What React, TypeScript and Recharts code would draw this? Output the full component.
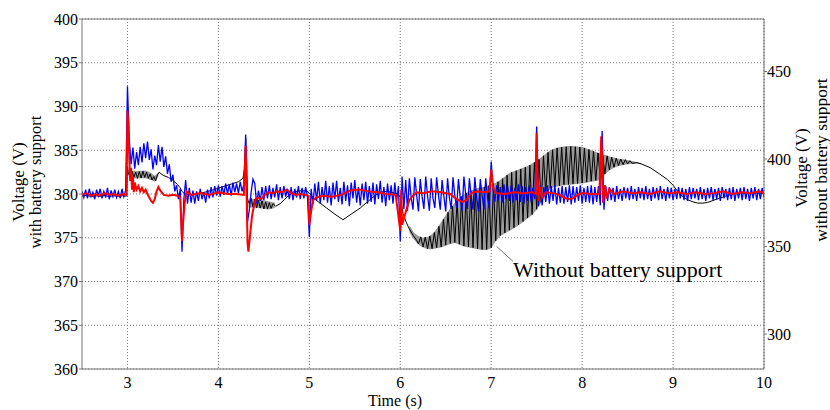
import {
  ComposedChart,
  Line,
  Area,
  XAxis,
  YAxis,
  CartesianGrid,
  ReferenceLine,
} from 'recharts';

const timeTicks = [3, 4, 5, 6, 7, 8, 9, 10];
const leftTicks = [360, 365, 370, 375, 380, 385, 390, 395, 400];
const rightTicks = [300, 350, 400, 450];

// blue trace (with battery support), sampled every 20 ms from 2.5 s
const blueStart = 2.5;
const blueStep = 0.02;
const blueValues = [
  380.3, 379.6, 380.5, 379.5, 380.6, 379.7, 380.2, 379.4, 380.5, 379.8,
  380.6, 379.5, 380.3, 379.6, 380.7, 379.4, 380.4, 379.7, 380.5, 379.6,
  380.3, 379.5, 380.6, 379.7, 380.4,
  392.3, 386.2, 383.4, 385.3, 382.9,
  384.8, 383.3, 385.4, 383.6, 385.8, 384.1, 386.0, 383.9, 385.1, 382.8,
  384.4, 383.3, 385.6, 383.7, 385.4, 383.1, 384.3, 382.3, 383.4, 381.4,
  382.2, 380.3, 381.0, 379.4, 380.6,
  373.4, 379.4, 381.6, 378.9, 380.7,
  379.0, 380.4, 378.9, 380.3, 379.2, 380.6, 379.4, 380.2, 379.0, 380.5,
  379.5, 380.8, 379.6, 380.9, 379.8, 381.0, 379.7, 380.9, 379.9, 381.2,
  380.0, 381.1, 379.8, 381.3, 380.2, 381.2, 380.1, 381.4, 380.3, 381.1,
  386.8, 376.8, 378.2, 380.2, 381.7,
  381.2, 378.9, 380.4, 379.2, 380.8, 379.3, 380.9, 379.5, 381.0, 379.4,
  380.7, 379.6, 381.1, 379.3, 380.8, 379.5, 380.9, 379.7, 380.6, 379.4,
  380.8, 379.3, 380.6, 379.6, 380.9, 379.4, 380.7, 379.5, 380.8, 379.6,
  375.1, 380.6, 378.8, 381.2, 379.2,
  381.4, 378.9, 380.8, 379.3, 381.5, 379.0, 380.9, 378.7, 381.3, 379.4,
  381.5, 379.1, 380.7, 378.8, 381.4, 379.2, 381.0, 378.6, 381.3, 379.5,
  381.6, 379.0, 380.8, 378.7, 381.2, 379.3, 381.4, 378.9, 380.9, 379.1,
  381.3, 378.8, 381.1, 379.4, 381.5, 379.0, 380.8, 378.6, 381.2, 379.3,
  381.0, 378.9, 381.3, 379.2, 380.9,
  374.6, 382.0, 378.3, 381.6, 378.1,
  381.8, 379.6, 378.2, 381.9, 379.9, 378.0, 381.7, 379.7, 378.3, 382.0,
  379.8, 378.1, 381.8, 379.5, 378.4, 381.9, 379.9, 378.2, 381.6, 379.7,
  378.0, 381.8, 379.6, 378.3, 381.9, 379.8, 378.4, 381.7, 379.5, 378.1,
  382.0, 379.9, 378.3, 381.8, 379.7, 378.2, 381.9, 379.6, 378.0, 381.7,
  379.8, 378.3, 381.8, 379.5, 378.4,
  383.7, 380.6, 379.1, 381.0, 379.3,
  380.8, 379.0, 381.1, 379.4, 380.9, 379.2, 381.0, 379.0, 380.7, 379.3,
  381.1, 379.1, 380.9, 378.9, 380.8, 379.2, 381.0, 379.0, 380.7, 379.4,
  387.7, 378.6, 381.0, 378.7, 380.8,
  379.1, 381.0, 378.9, 380.9, 379.2, 381.0, 378.8, 380.7, 379.0, 380.9,
  378.9, 380.8, 379.1, 381.0, 378.8, 380.9, 379.0, 380.8, 379.2, 381.0,
  378.9, 380.7, 379.1, 380.9, 379.0, 381.0, 378.8, 380.8, 379.1, 380.9,
  378.7, 387.2, 378.2, 380.9, 379.2,
  380.8, 379.3, 380.7, 379.1, 380.9, 379.4, 380.6, 379.2, 380.8, 379.5,
  380.7, 379.3, 380.9, 379.4, 380.6, 379.2, 380.8, 379.5, 380.7, 379.3,
  380.9, 379.4, 380.6, 379.2, 380.8, 379.5, 380.7, 379.3, 380.9, 379.4,
  380.6, 379.2, 380.8, 379.5, 380.7, 379.3, 380.6, 379.4, 380.8, 379.5,
  380.7, 379.3, 380.6, 379.2, 380.8, 379.4, 380.7, 379.5, 380.6, 379.3,
  380.8, 379.4, 380.6, 379.2, 380.7, 379.5, 380.8, 379.3, 380.6, 379.4,
  380.7, 379.2, 380.8, 379.5, 380.6, 379.3, 380.7, 379.4, 380.8, 379.2,
  380.6, 379.5, 380.7, 379.3, 380.8, 379.4, 380.6, 379.2, 380.7, 379.5,
  380.8, 379.3, 380.6, 379.4, 380.7, 379.6,
];

// red trace (with battery support), [time, voltage]
const redPoints: [number, number][] = [
  [2.5, 379.9], [2.55, 380.1], [2.6, 379.8], [2.65, 380.0], [2.7, 379.8],
  [2.75, 380.1], [2.8, 379.9], [2.85, 380.0], [2.9, 379.8], [2.95, 380.0],
  [2.99, 379.9], [3.0, 389.5], [3.01, 388.0], [3.02, 384.0], [3.03, 381.5],
  [3.04, 383.0], [3.05, 380.5], [3.06, 382.0], [3.07, 380.2], [3.08, 381.3],
  [3.1, 380.5], [3.12, 380.9], [3.14, 380.3], [3.16, 380.7], [3.18, 380.2],
  [3.2, 380.5], [3.22, 380.0], [3.24, 379.6], [3.26, 379.2], [3.28, 379.0],
  [3.3, 379.4], [3.32, 380.3], [3.34, 380.8], [3.36, 380.4], [3.4, 379.9],
  [3.45, 379.8], [3.5, 379.9], [3.55, 379.8], [3.58, 379.6], [3.6, 374.6],
  [3.61, 376.5], [3.63, 379.0], [3.65, 380.3], [3.7, 379.9], [3.8, 380.1],
  [3.9, 379.9], [4.0, 380.2], [4.1, 380.0], [4.2, 380.0], [4.28, 379.9],
  [4.3, 385.5], [4.31, 380.0], [4.32, 374.5], [4.33, 373.4], [4.35, 375.5],
  [4.37, 377.5], [4.39, 378.6], [4.41, 379.4], [4.44, 379.6], [4.47, 379.4],
  [4.5, 379.8], [4.55, 380.2], [4.6, 380.1], [4.65, 380.3], [4.7, 380.2],
  [4.75, 380.5], [4.8, 380.1], [4.85, 379.9], [4.9, 380.0], [4.95, 379.9],
  [4.99, 379.8], [5.0, 376.5], [5.02, 378.0], [5.04, 379.3], [5.08, 379.6],
  [5.15, 379.8], [5.25, 379.7], [5.35, 379.9], [5.45, 380.4], [5.55, 380.5],
  [5.65, 380.3], [5.75, 380.2], [5.85, 380.0], [5.95, 379.9], [6.0, 375.8],
  [6.01, 380.5], [6.02, 376.5], [6.04, 377.2], [6.07, 378.3], [6.1, 379.3],
  [6.13, 379.7], [6.18, 380.2], [6.25, 380.1], [6.35, 380.3], [6.45, 380.2],
  [6.55, 380.0], [6.62, 379.4], [6.68, 379.1], [6.73, 379.3], [6.78, 380.1],
  [6.85, 380.3], [6.92, 380.2], [6.98, 380.3], [7.0, 382.8], [7.02, 380.8],
  [7.05, 380.1], [7.15, 380.0], [7.25, 380.2], [7.35, 380.1], [7.45, 380.2],
  [7.49, 380.0], [7.5, 387.0], [7.51, 382.0], [7.52, 379.2], [7.54, 380.8],
  [7.56, 379.6], [7.6, 380.2], [7.68, 380.1], [7.75, 379.9], [7.8, 379.6],
  [7.85, 379.4], [7.9, 379.5], [7.95, 379.9], [8.0, 380.1], [8.1, 380.0],
  [8.19, 380.0], [8.21, 386.6], [8.22, 384.0], [8.23, 379.0], [8.25, 381.0],
  [8.27, 379.5], [8.3, 380.6], [8.35, 380.0], [8.45, 380.3], [8.55, 380.1],
  [8.65, 380.2], [8.75, 380.0], [8.85, 380.3], [8.95, 380.1], [9.05, 380.2],
  [9.15, 380.0], [9.25, 380.2], [9.35, 380.0], [9.45, 380.1], [9.55, 380.3],
  [9.65, 380.0], [9.75, 380.2], [9.85, 380.1], [9.95, 380.3], [10.0, 380.1],
];

// black trace (without battery support, right axis), [time, voltage]
const blackPoints: [number, number][] = [
  [2.5, 378.8], [2.55, 379.2], [2.6, 378.6], [2.65, 379.0], [2.7, 378.7],
  [2.75, 379.1], [2.8, 378.6], [2.85, 379.0], [2.9, 378.7], [2.95, 379.0],
  [2.99, 378.8], [3.0, 396.0], [3.01, 392.0], [3.03, 389.0], [3.05, 393.0],
  [3.07, 389.5], [3.09, 392.5], [3.11, 389.0], [3.13, 392.8], [3.15, 389.2],
  [3.17, 393.0], [3.19, 389.5], [3.21, 392.5], [3.23, 389.0], [3.25, 391.5],
  [3.27, 388.0], [3.29, 390.0], [3.31, 387.5], [3.33, 391.0], [3.35, 392.5],
  [3.37, 391.5], [3.4, 390.5], [3.45, 389.5], [3.5, 387.8], [3.55, 385.5],
  [3.58, 383.5], [3.6, 381.5], [3.63, 380.0], [3.68, 379.6], [3.75, 379.8],
  [3.85, 381.0], [3.95, 382.5], [4.05, 384.2], [4.15, 385.8], [4.22, 387.0],
  [4.27, 389.0], [4.29, 395.0], [4.3, 412.0], [4.31, 400.0], [4.32, 377.0],
  [4.34, 374.5], [4.36, 377.5], [4.38, 372.5], [4.4, 377.0], [4.42, 372.0],
  [4.44, 376.5], [4.46, 372.0], [4.48, 376.0], [4.5, 371.5], [4.52, 375.5],
  [4.54, 371.5], [4.56, 375.0], [4.58, 371.8], [4.6, 374.5], [4.63, 373.0],
  [4.68, 374.5], [4.73, 377.0], [4.78, 379.5], [4.83, 381.3], [4.9, 381.8],
  [4.97, 381.8], [5.0, 380.5], [5.05, 377.5], [5.1, 375.5], [5.19, 372.0],
  [5.28, 368.5], [5.37, 365.3], [5.46, 368.5], [5.56, 372.0], [5.65, 376.0],
  [5.72, 379.0], [5.78, 381.0], [5.85, 381.5], [5.92, 380.8], [5.98, 379.8],
  [6.0, 378.0], [6.03, 369.0], [6.06, 364.5], [6.1, 360.0], [6.14, 356.5],
  [6.18, 353.5], [6.2, 351.5], [6.225, 355.5], [6.25, 349.8], [6.275, 355.3],
  [6.3, 348.8], [6.325, 356.0], [6.35, 348.8], [6.375, 358.0], [6.4, 349.3],
  [6.425, 361.5], [6.45, 349.8], [6.475, 365.5], [6.5, 350.8], [6.525, 369.5],
  [6.55, 351.8], [6.575, 373.0], [6.6, 352.3], [6.625, 376.0], [6.65, 351.3],
  [6.675, 378.5], [6.7, 350.3], [6.725, 380.5], [6.75, 349.8], [6.775, 381.8],
  [6.8, 349.3], [6.825, 382.8], [6.85, 348.8], [6.875, 383.5], [6.9, 348.3],
  [6.925, 384.0], [6.95, 348.3], [6.975, 384.8], [7.0, 349.3], [7.025, 385.8],
  [7.05, 353.3], [7.075, 387.0], [7.1, 356.3], [7.125, 388.8], [7.15, 357.8],
  [7.175, 390.8], [7.2, 359.3], [7.225, 392.3], [7.25, 360.8], [7.275, 393.3],
  [7.3, 362.3], [7.325, 394.3], [7.35, 364.3], [7.375, 395.3], [7.4, 366.3],
  [7.425, 396.5], [7.45, 368.3], [7.475, 398.0], [7.5, 371.3], [7.525, 399.8],
  [7.55, 375.3], [7.575, 401.8], [7.6, 380.3], [7.625, 403.8], [7.65, 383.3],
  [7.675, 405.3], [7.7, 384.3], [7.725, 406.3], [7.75, 384.8], [7.775, 406.8],
  [7.8, 385.3], [7.825, 407.0], [7.85, 385.5], [7.875, 407.2], [7.9, 385.8],
  [7.925, 407.0], [7.95, 386.0], [7.975, 406.8], [8.0, 386.3], [8.025, 406.3],
  [8.05, 386.8], [8.075, 405.5], [8.1, 387.3], [8.125, 404.5], [8.15, 387.8],
  [8.175, 403.5], [8.2, 388.3], [8.225, 402.3], [8.25, 391.5], [8.275, 401.8],
  [8.3, 393.8], [8.325, 401.0], [8.35, 395.3], [8.375, 400.5], [8.4, 396.3],
  [8.425, 400.0], [8.45, 396.8], [8.475, 399.6], [8.5, 397.2], [8.525, 399.0],
  [8.55, 397.5], [8.6, 398.0], [8.65, 397.2], [8.75, 395.0], [8.85, 391.5],
  [8.94, 388.2], [9.0, 385.0], [9.05, 381.5], [9.1, 378.8], [9.16, 376.7],
  [9.22, 375.5], [9.27, 374.8], [9.33, 374.8], [9.38, 375.2], [9.45, 376.5],
  [9.52, 377.7], [9.6, 379.2], [9.67, 380.2], [9.75, 380.6], [9.82, 380.3],
  [9.9, 380.6], [10.0, 380.4],
];

// grey envelope of the black trace, [time, low, high]
const bandStart: [number, number, number][] = [
  [3.02, 389.0, 393.5], [3.1, 388.8, 393.2], [3.2, 389.0, 393.5],
  [3.26, 387.8, 392.0], [3.3, 387.2, 390.5], [3.34, 390.0, 392.5],
];
const bandStep: [number, number, number][] = [
  [4.33, 372.5, 377.5], [4.45, 371.8, 377.0], [4.55, 371.2, 375.8], [4.62, 372.0, 375.0],
];
const bandLoad: [number, number, number][] = [
  [6.1, 358, 362], [6.15, 354, 358], [6.2, 351, 356], [6.25, 349.5, 355],
  [6.3, 348.5, 355.5], [6.35, 348.5, 357], [6.4, 349, 360], [6.45, 349.5, 364],
  [6.5, 350.5, 368], [6.55, 351.5, 372], [6.6, 352, 375], [6.65, 351, 378],
  [6.7, 350, 380], [6.75, 349.5, 381.5], [6.8, 349, 382.5], [6.85, 348.5, 383.5],
  [6.9, 348, 384], [6.95, 348, 384.5], [7.0, 349, 385.5], [7.05, 353, 386.5],
  [7.1, 356, 388], [7.15, 357.5, 390], [7.2, 359, 392], [7.25, 360.5, 393],
  [7.3, 362, 394], [7.35, 364, 395], [7.4, 366, 396], [7.45, 368, 397.5],
  [7.5, 371, 399], [7.55, 375, 401], [7.6, 380, 403], [7.65, 383, 405],
  [7.7, 384, 406], [7.75, 384.5, 406.8], [7.8, 385, 407.2], [7.85, 385.2, 407.5],
  [7.9, 385.5, 407.5], [7.95, 385.8, 407.2], [8.0, 386, 407], [8.05, 386.5, 406],
  [8.1, 387, 405], [8.15, 387.5, 404], [8.2, 388, 403], [8.25, 391, 402.5],
  [8.3, 393.5, 401.5], [8.35, 395, 400.8], [8.4, 396, 400.2], [8.45, 396.5, 399.8],
  [8.5, 397, 399.4], [8.55, 397.2, 398.8], [8.6, 397.3, 398.2], [8.65, 397, 397.5],
];

const blueData = blueValues.map((v, i) => ({ t: +(blueStart + i * blueStep).toFixed(2), v }));
const redData = redPoints.map(([t, v]) => ({ t, v }));
const blackData = blackPoints.map(([t, v]) => ({ t, v }));
const toBand = (rows: [number, number, number][]) =>
  rows.map(([t, lo, hi]) => ({ t, range: [lo, hi] }));

const FONT = 'Liberation Serif, DejaVu Serif, serif';
const tickStyle = { fill: '#000', fontSize: 16, fontFamily: FONT };

export default function App() {
  return (
    <div
      style={{
        position: 'fixed',
        left: 0,
        top: 0,
        width: 830,
        height: 410,
        background: '#fff',
        fontFamily: FONT,
      }}
    >
      <ComposedChart
        width={830}
        height={410}
        margin={{ top: 19, right: 0, bottom: 0, left: 0 }}
        style={{ fontFamily: FONT }}
      >
        <CartesianGrid
          yAxisId="left"
          stroke="#777"
          strokeDasharray="1 2"
          horizontalValues={leftTicks}
          verticalValues={timeTicks}
        />
        <XAxis
          dataKey="t"
          type="number"
          domain={[2.5, 10]}
          ticks={timeTicks}
          allowDataOverflow
          height={41}
          stroke="#777"
          tickSize={0}
          tickMargin={8}
          tick={tickStyle}
        />
        <YAxis
          yAxisId="left"
          domain={[360, 400]}
          ticks={leftTicks}
          width={82}
          stroke="#777"
          tickSize={3}
          tickMargin={1}
          allowDataOverflow
          tick={tickStyle}
        />
        <YAxis
          yAxisId="right"
          orientation="right"
          domain={[280, 480]}
          ticks={rightTicks}
          width={66}
          stroke="#777"
          tickSize={3}
          tickMargin={0}
          allowDataOverflow
          tick={tickStyle}
        />
        <ReferenceLine yAxisId="left" y={400} stroke="#777" />
        {[bandStart, bandStep, bandLoad].map((rows, k) => (
          <Area
            key={k}
            yAxisId="right"
            data={toBand(rows)}
            dataKey="range"
            type="linear"
            stroke="none"
            fill="#9a9a9a"
            fillOpacity={1}
            isAnimationActive={false}
          />
        ))}
        <Line
          yAxisId="right"
          data={blackData}
          dataKey="v"
          type="linear"
          stroke="#000"
          strokeWidth={1}
          dot={false}
          isAnimationActive={false}
        />
        <Line
          yAxisId="left"
          data={blueData}
          dataKey="v"
          type="linear"
          stroke="#0000ff"
          strokeWidth={1.3}
          dot={false}
          isAnimationActive={false}
        />
        <Line
          yAxisId="left"
          data={redData}
          dataKey="v"
          type="linear"
          stroke="#ff0000"
          strokeWidth={2}
          dot={false}
          isAnimationActive={false}
        />
        <ReferenceLine
          yAxisId="left"
          segment={[
            { x: 7.06, y: 374.0 },
            { x: 7.24, y: 372.3 },
          ]}
          stroke="#555"
          strokeWidth={0.8}
        />
      </ComposedChart>
      <svg
        width={830}
        height={410}
        style={{ position: 'absolute', left: 0, top: 0, pointerEvents: 'none', fontFamily: FONT }}
        fill="#000"
      >
        <text x={395} y={406} fontSize={16} textAnchor="middle">
          Time (s)
        </text>
        <text
          x={18}
          y={182}
          fontSize={17}
          textAnchor="middle"
          dominantBaseline="central"
          transform="rotate(-90 18 182)"
        >
          Voltage (V)
        </text>
        <text
          x={35}
          y={182}
          fontSize={16.5}
          textAnchor="middle"
          dominantBaseline="central"
          transform="rotate(-90 35 182)"
        >
          with battery support
        </text>
        <text
          x={801}
          y={168}
          fontSize={17}
          textAnchor="middle"
          dominantBaseline="central"
          transform="rotate(-90 801 168)"
        >
          Voltage (V)
        </text>
        <text
          x={821}
          y={160}
          fontSize={17.5}
          textAnchor="middle"
          dominantBaseline="central"
          transform="rotate(-90 821 160)"
        >
          without battery support
        </text>
        <text x={513} y={277} fontSize={22}>
          Without battery support
        </text>
      </svg>
    </div>
  );
}
